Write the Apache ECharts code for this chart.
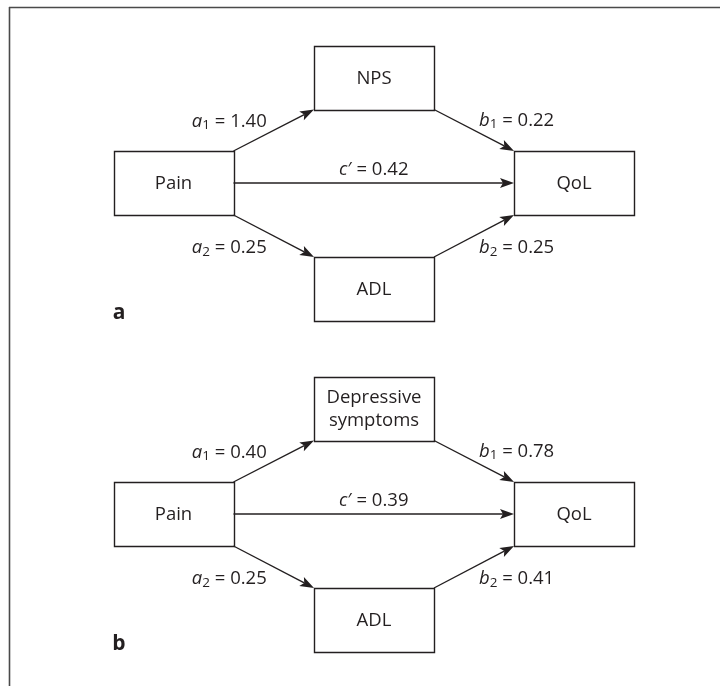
<!DOCTYPE html>
<html><head><meta charset="utf-8">
<script src="https://cdn.jsdelivr.net/npm/echarts@6/dist/echarts.min.js"></script>
<style>html,body{margin:0;padding:0;background:#fff}#c{width:720px;height:686px}</style>
</head><body><div id="c"></div>
<script>
// ---------------- data ----------------
const panelLetters = ['a', 'b'];
const nodeKeys = ['X', 'M1', 'M2', 'Y'];
const nodeLabelsA = ['Pain', 'NPS', 'ADL', 'QoL'];
const nodeLabelsB = ['Pain', 'Depressive\nsymptoms', 'ADL', 'QoL'];
const pathLetters = ['a', 'b', 'c', 'a', 'b'];
const pathSubs = ['1', '1', '\u2032', '2', '2'];
const pathFrom = ['X', 'M1', 'X', 'X', 'M2'];
const pathTo = ['M1', 'Y', 'Y', 'M2', 'Y'];
const coefA = [1.40, 0.22, 0.42, 0.25, 0.25];
const coefB = [0.40, 0.78, 0.39, 0.25, 0.41];

// ---------------- layout / style ----------------
const W = 720, H = 686;
const BOX_W = 120, BOX_H = 64;
const nodePos = { X: [173.5, 183], M1: [374, 77.5], M2: [374, 289], Y: [574, 183] };
const panelOffsetY = [0, 331];
const letterPos = [119, 313];
const INK = '#231f20';
const FONT = '"Open Sans", "Noto Sans", sans-serif';
const FS = 18.5, FS_SUB = 13.5;

const nodeLabels = [nodeLabelsA, nodeLabelsB];
const coefs = [coefA, coefB];

// boxes
const boxData = [];
panelLetters.forEach((p, pi) => {
  nodeKeys.forEach((k, ni) => {
    boxData.push({ value: [nodePos[k][0], nodePos[k][1] + panelOffsetY[pi]], name: nodeLabels[pi][ni] });
  });
});

// paths: anchors at box corners
function anchors(fromKey, toKey, off) {
  const a = nodePos[fromKey], b = nodePos[toKey];
  const hw = BOX_W / 2, hh = BOX_H / 2;
  let s, e;
  if (Math.abs(b[1] - a[1]) < 1) { s = [a[0] + hw, a[1]]; e = [b[0] - hw, b[1]]; }
  else if (b[1] < a[1]) { s = [a[0] + hw, a[1] - hh]; e = [b[0] - hw, b[1] + hh]; }
  else { s = [a[0] + hw, a[1] + hh]; e = [b[0] - hw, b[1] - hh]; }
  return [s[0], s[1] + off, e[0], e[1] + off];
}
const pathData = [];
panelLetters.forEach((p, pi) => {
  pathFrom.forEach((f, i) => {
    const v = anchors(f, pathTo[i], panelOffsetY[pi]);
    pathData.push({ value: v, letter: pathLetters[i], sub: pathSubs[i], coef: coefs[pi][i], from: f, to: pathTo[i] });
  });
});

const letterData = panelLetters.map((l, pi) => ({ value: [letterPos[0], letterPos[1] + panelOffsetY[pi]], name: l }));

const chart = echarts.init(document.getElementById('c'), null, { renderer: 'canvas' });
chart.setOption({
  animation: false,
  backgroundColor: '#fff',
  grid: { left: 0, right: 0, top: 0, bottom: 0 },
  xAxis: { type: 'value', min: 0, max: W, show: false },
  yAxis: { type: 'value', min: 0, max: H, inverse: true, show: false },
  graphic: [
    { type: 'line', shape: { x1: 9, y1: 7.5, x2: 720, y2: 7.5 }, style: { stroke: '#4a4a4a', lineWidth: 1.6 }, silent: true },
    { type: 'line', shape: { x1: 9.5, y1: 7, x2: 9.5, y2: 686 }, style: { stroke: '#4a4a4a', lineWidth: 1.6 }, silent: true }
  ],
  series: [
    {
      type: 'custom', coordinateSystem: 'cartesian2d', silent: true,
      data: boxData,
      renderItem: function (params, api) {
        const c = api.coord([api.value(0), api.value(1)]);
        const sz = api.size([BOX_W, BOX_H]);
        const name = boxData[params.dataIndex].name;
        const x = Math.round(c[0] - sz[0] / 2) + 0.5, y = Math.round(c[1] - sz[1] / 2) + 0.5;
        return {
          type: 'group', children: [
            { type: 'rect', shape: { x: x, y: y, width: Math.round(sz[0]), height: Math.round(sz[1]) }, style: { fill: '#fff', stroke: INK, lineWidth: 1.4 } },
            { type: 'text', x: c[0], y: c[1] + 1, style: { text: name, fill: INK, font: FS + 'px ' + FONT, align: 'center', verticalAlign: 'middle', lineHeight: 23 } }
          ]
        };
      }
    },
    {
      type: 'custom', coordinateSystem: 'cartesian2d', silent: true,
      data: pathData,
      renderItem: function (params, api) {
        const d = pathData[params.dataIndex];
        const p0 = api.coord([api.value(0), api.value(1)]);
        const p1 = api.coord([api.value(2), api.value(3)]);
        const dx = p1[0] - p0[0], dy = p1[1] - p0[1];
        const len = Math.sqrt(dx * dx + dy * dy);
        const ux = dx / len, uy = dy / len, nx = -uy, ny = ux;
        const L = 14, HW = 5, N = 11;
        const tip = p1;
        const left = [p1[0] - ux * L + nx * HW, p1[1] - uy * L + ny * HW];
        const right = [p1[0] - ux * L - nx * HW, p1[1] - uy * L - ny * HW];
        const notch = [p1[0] - ux * N, p1[1] - uy * N];
        const mx = (p0[0] + p1[0]) / 2, my = (p0[1] + p1[1]) / 2;
        let lx, ly, align;
        if (d.from === 'X' && d.to === 'Y') { lx = mx; ly = my - 13; align = 'center'; }
        else if (d.from === 'X') { lx = mx - 7; align = 'right'; ly = dy < 0 ? my - 9 : my + 12; }
        else { lx = mx + 5; align = 'left'; ly = dy > 0 ? my - 10 : my + 12; }
        const isPrime = d.sub === '\u2032';
        const txt = '{i|' + d.letter + '}' + (isPrime ? '{p|\u2032}' : '{s|' + d.sub + '}') + '{n| = ' + d.coef.toFixed(2) + '}';
        return {
          type: 'group', children: [
            { type: 'line', shape: { x1: p0[0], y1: p0[1], x2: notch[0], y2: notch[1] }, style: { stroke: INK, lineWidth: 1.4 } },
            { type: 'polygon', shape: { points: [tip, left, notch, right] }, style: { fill: INK } },
            {
              type: 'text', x: lx, y: ly, style: {
                text: txt, align: align, verticalAlign: 'middle',
                rich: {
                  i: { font: 'italic ' + FS + 'px ' + FONT, fill: INK, lineHeight: 22 },
                  p: { font: FS + 'px ' + FONT, fill: INK, lineHeight: 22 },
                  s: { font: FS_SUB + 'px ' + FONT, fill: INK, lineHeight: 12, verticalAlign: 'bottom' },
                  n: { font: FS + 'px ' + FONT, fill: INK, lineHeight: 22 }
                }
              }
            }
          ]
        };
      }
    },
    {
      type: 'custom', coordinateSystem: 'cartesian2d', silent: true,
      data: letterData,
      renderItem: function (params, api) {
        const c = api.coord([api.value(0), api.value(1)]);
        return { type: 'text', x: c[0], y: c[1], style: { text: letterData[params.dataIndex].name, fill: INK, font: 'bold 21px ' + FONT, align: 'center', verticalAlign: 'middle' } };
      }
    }
  ]
});
</script>
</body></html>
